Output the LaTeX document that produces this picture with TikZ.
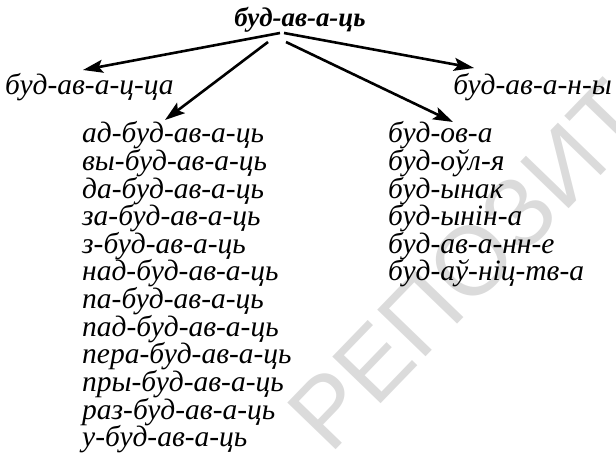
\documentclass[tikz,border=0pt]{standalone}
\usepackage{fontspec}
\setmainfont{Liberation Serif}
\newfontfamily\wmfont{Liberation Sans}
\usetikzlibrary{arrows.meta}
\begin{document}
\begin{tikzpicture}[x=1bp,y=-1bp,
  word/.style={font=\fontsize{29.6}{29.6}\selectfont\itshape, inner sep=0pt, anchor=base west},
  head/.style={font=\fontsize{27}{27}\selectfont\bfseries\itshape, inner sep=0pt, anchor=base},
  arr/.style={line width=2.6bp, -{Stealth[length=20bp,width=13bp,inset=4bp]}},
  wm/.style={font=\fontsize{98}{98}\selectfont\wmfont, text=black!14, inner sep=0pt, rotate=46}
]
\useasboundingbox (0,0) rectangle (616,456);
\begin{scope}
\clip (0,0) rectangle (616,456);
\node[wm, anchor=base west] (wmark) at (330,456) {РЕПОЗИТ};
\end{scope}

\node[head] (top) at (300,27) {буд-ав-а-ць};
\coordinate (s1) at (280,33);
\coordinate (s2) at (284,33);
\coordinate (s3) at (268,42);
\coordinate (s4) at (286,42);

\node[word] (l) at (5,95) {буд-ав-а-ц-ца};
\node[word, anchor=base east] (r) at (612,95) {буд-ав-а-н-ы};

\foreach \t [count=\i from 0] in {ад-буд-ав-а-ць,вы-буд-ав-а-ць,да-буд-ав-а-ць,за-буд-ав-а-ць,з-буд-ав-а-ць,над-буд-ав-а-ць,па-буд-ав-а-ць,пад-буд-ав-а-ць,пера-буд-ав-а-ць,пры-буд-ав-а-ць,раз-буд-ав-а-ць,у-буд-ав-а-ць}
  \node[word] (a\i) at (82,{143+27.6*\i}) {\t};
\foreach \t [count=\i from 0] in {буд-ов-а,буд-оўл-я,буд-ынак,буд-ынін-а,буд-ав-а-нн-е,буд-аў-ніц-тв-а}
  \node[word] (b\i) at (388,{143+27.6*\i}) {\t};

\coordinate (t1) at (83,70);
\coordinate (t2) at (474,68);
\coordinate (t3) at (165,120);
\coordinate (t4) at (453,122);
\draw[arr] (s1) -- (t1);
\draw[arr] (s2) -- (t2);
\draw[arr] (s3) -- (t3);
\draw[arr] (s4) -- (t4);
\end{tikzpicture}
\end{document}
